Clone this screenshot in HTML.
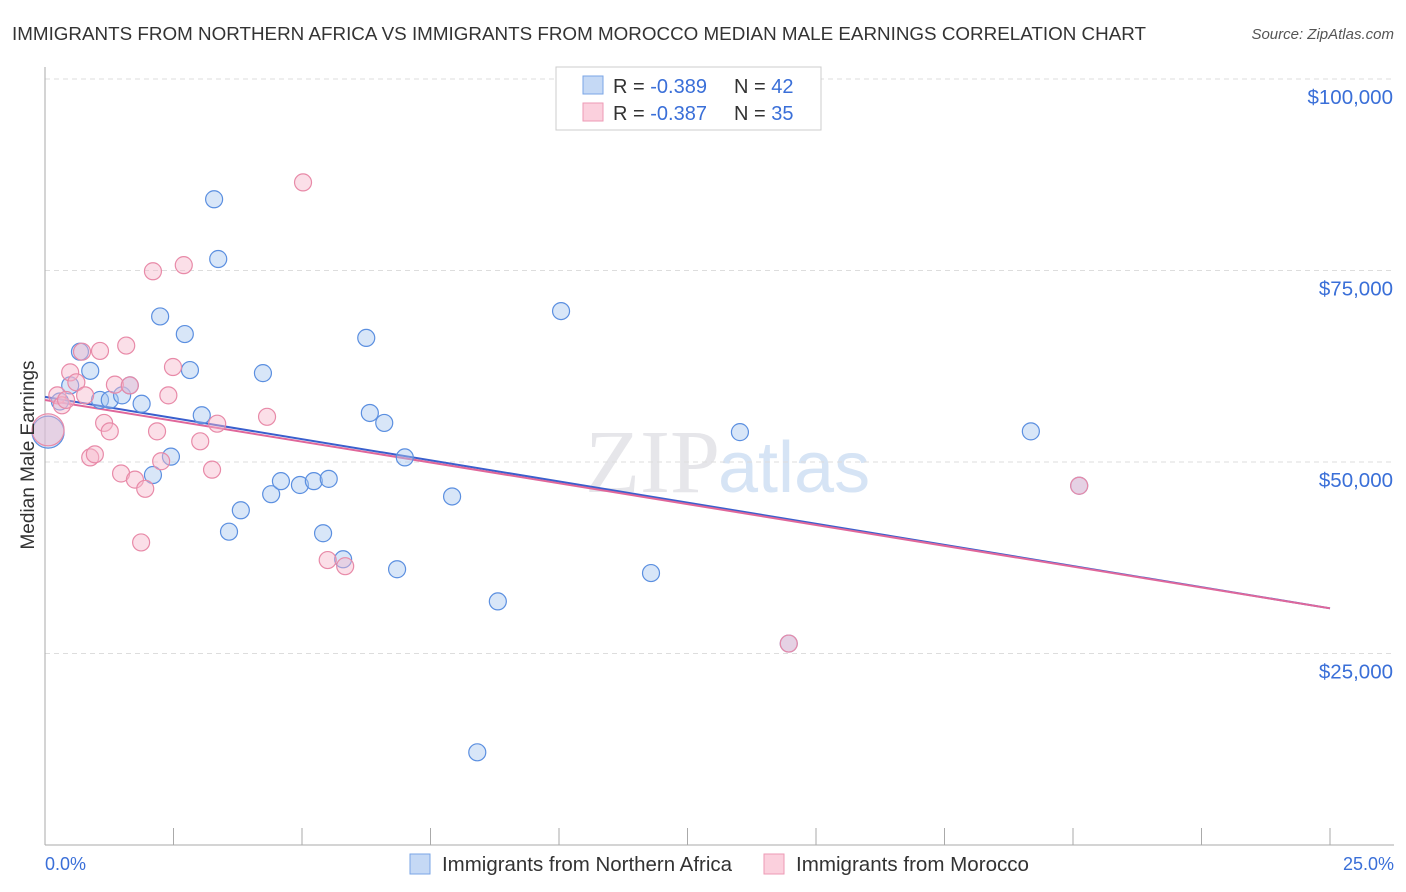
<!DOCTYPE html>
<html><head><meta charset="utf-8"><style>
body{margin:0;background:#fff;font-family:"Liberation Sans",sans-serif;}
svg{display:block}
</style></head><body>
<svg id="chart" width="1406" height="892">
<text x="12" y="40" font-size="18.5" fill="#333" textLength="1134" lengthAdjust="spacingAndGlyphs">IMMIGRANTS FROM NORTHERN AFRICA VS IMMIGRANTS FROM MOROCCO MEDIAN MALE EARNINGS CORRELATION CHART</text>
<text x="1394" y="39" font-size="15" fill="#555" font-style="italic" text-anchor="end">Source: ZipAtlas.com</text>
<text x="720" y="492" font-size="90" fill="#e6e6ea" text-anchor="end" font-family="Liberation Serif">ZIP</text>
<text x="718" y="492" font-size="72" fill="#d6e4f5">atlas</text>
<g id="grid"></g><g id="axes"></g><g id="lines"></g><g id="pts"></g>
<text transform="translate(34,455) rotate(-90)" font-size="19" fill="#333" text-anchor="middle">Median Male Earnings</text>
<text x="45" y="870" font-size="18" fill="#3a6fd8">0.0%</text>
<text x="1394" y="870" font-size="18" fill="#3a6fd8" text-anchor="end">25.0%</text>
<g>
<rect x="556" y="67" width="265" height="63" fill="#fff" stroke="#ccc"/>
<rect x="583" y="76" width="20" height="18" fill="#c5d9f5" stroke="#7aa5e6"/>
<rect x="583" y="103" width="20" height="18" fill="#fbd0dd" stroke="#ee9ab5"/>
<text x="613" y="93" font-size="20" fill="#333">R = <tspan fill="#3a6fd8">-0.389</tspan></text>
<text x="734" y="93" font-size="20" fill="#333">N = <tspan fill="#3a6fd8">42</tspan></text>
<text x="613" y="120" font-size="20" fill="#333">R = <tspan fill="#3a6fd8">-0.387</tspan></text>
<text x="734" y="120" font-size="20" fill="#333">N = <tspan fill="#3a6fd8">35</tspan></text>
</g>
<g>
<rect x="410" y="854" width="20" height="20" fill="#c5d9f5" stroke="#7aa5e6"/>
<text x="442" y="871" font-size="20" fill="#333" textLength="290" lengthAdjust="spacingAndGlyphs">Immigrants from Northern Africa</text></g>
<g>
<rect x="764" y="854" width="20" height="20" fill="#fbd0dd" stroke="#ee9ab5"/>
<text x="796" y="871" font-size="20" fill="#333" textLength="233" lengthAdjust="spacingAndGlyphs">Immigrants from Morocco</text></g>
</svg>
<script>
const yTicks=[25000,50000,75000,100000];
const yTickLabels=["$25,000","$50,000","$75,000","$100,000"];
const xTicks=[0,2.5,5,7.5,10,12.5,15,17.5,20,22.5,25];
const blueX=[0.06,0.29,0.49,0.68,0.88,1.07,1.26,1.50,1.65,1.88,2.10,2.24,2.45,2.72,2.82,3.05,3.29,3.37,3.58,3.81,4.24,4.40,4.59,4.96,5.23,5.52,5.41,5.80,6.25,6.32,6.60,6.85,7.00,7.92,8.41,8.81,10.04,11.79,13.52,14.47,19.18,20.12];
const blueY=[53900,57900,60000,64400,61900,58100,58100,58700,60000,57600,48300,69000,50700,66700,62000,56100,84300,76500,40900,43700,61600,45800,47500,47000,47500,47800,40700,37300,66200,56400,55100,36000,50600,45500,12100,31800,69700,35500,53900,26300,54000,46900];
const pinkX=[0.06,0.24,0.33,0.49,0.61,0.78,0.88,0.97,1.07,1.15,1.26,1.36,1.48,1.58,1.65,1.75,1.87,1.95,2.10,2.18,2.26,2.40,2.49,2.70,3.02,3.25,3.35,4.32,5.02,5.50,5.84,14.47,20.12,0.72,0.41];
const pinkY=[54200,58700,57400,61700,60400,58700,50600,51000,64500,55100,54000,60100,48500,65200,60000,47700,39500,46500,74900,54000,50100,58700,62400,75700,52700,49000,55000,55900,86500,37200,36400,26300,46900,64400,58100];
const blueTrend=[58500,30900];
const pinkTrend=[58100,30900];
const X0=45,X1=1330,YB=845,PPY=191.5/25000;
const sx=v=>X0+(v/25)*(X1-X0), sy=v=>YB-v*PPY;
const NS="http://www.w3.org/2000/svg";
function mk(t,a,p){const e=document.createElementNS(NS,t);for(const k in a)e.setAttribute(k,a[k]);document.getElementById(p).appendChild(e);return e;}
yTicks.forEach((v,i)=>{
 const g=mk('line',{x1:45,x2:1394,y1:sy(v),y2:sy(v),stroke:'#ddd','stroke-dasharray':'5,4'},'grid');
 
 
 const t=mk('text',{x:1393,y:sy(v)+25,'font-size':20.5,fill:'#3a6fd8','text-anchor':'end'},'grid');
 t.textContent=yTickLabels[i];
 
 
});
const ya=mk('line',{x1:45,x2:45,y1:67,y2:845,stroke:'#aaa'},'axes');


const xa=mk('line',{x1:45,x2:1394,y1:845,y2:845,stroke:'#aaa'},'axes');


xTicks.forEach(v=>{
 const t=mk('line',{x1:sx(v),x2:sx(v),y1:828,y2:845,stroke:'#aaa'},'axes');
 
 
});
function pts(xs,ys,fill,stroke,name){
 xs.forEach((x,i)=>{
  const c=mk('circle',{cx:sx(x),cy:sy(ys[i]),r:i===0?16:8.5,fill:fill,'fill-opacity':0.45,stroke:stroke,'stroke-width':1.2},'pts');
  
  
 });
}
pts(blueX,blueY,'#a9c8f0','#5b8fe0','point-northern-africa');
pts(pinkX,pinkY,'#f7b8cb','#e88aa8','point-morocco');
const bl=mk('line',{x1:sx(0),y1:sy(blueTrend[0]),x2:sx(25),y2:sy(blueTrend[1]),stroke:'#3a5fcd','stroke-width':2},'lines');


const pl=mk('line',{x1:sx(0),y1:sy(pinkTrend[0]),x2:sx(25),y2:sy(pinkTrend[1]),stroke:'#e0679a','stroke-width':2},'lines');


</script>
</body></html>
